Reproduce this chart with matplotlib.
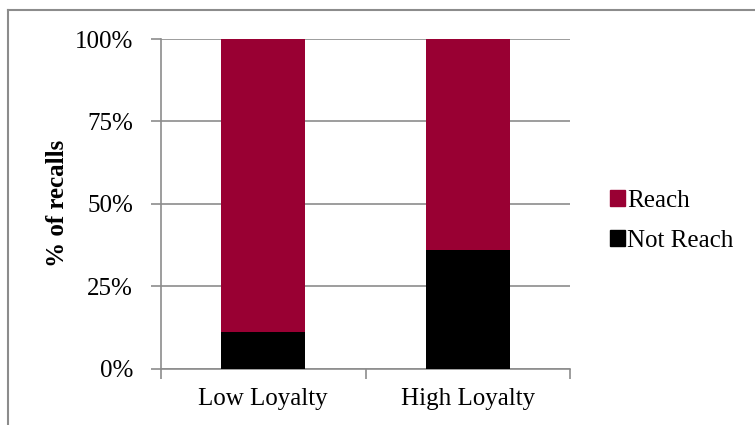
import numpy as np
import matplotlib.pyplot as plt
from matplotlib.patches import Patch
from matplotlib.lines import Line2D

plt.rcParams['font.family'] = ['Liberation Serif', 'DejaVu Serif']

categories = ["Low Loyalty", "High Loyalty"]
not_reach = np.array([11, 36])
reach = 100 - not_reach

reach_color = "#990033"
grid_color = "#8c8c8c"

fig = plt.figure(figsize=(7.55, 4.25), dpi=100)
ax = fig.add_axes([161 / 755, 1 - 368.5 / 425, 409 / 755, 329.5 / 425])

x = np.arange(len(categories))
ax.bar(x, not_reach, width=0.41, color="black", zorder=3)
ax.bar(x, reach, width=0.41, bottom=not_reach, color=reach_color, zorder=3)

ax.set_xlim(-0.5, 1.5)
ax.set_ylim(0, 100)
ax.set_yticks([0, 25, 50, 75, 100])
ax.set_yticklabels(["0%", "25%", "50%", "75%", "100%"])
ax.yaxis.grid(True, color=grid_color, linewidth=1.2, zorder=0)

ax.set_xticks(x)
ax.set_xticklabels(categories)
ax.set_xticks([-0.5, 0.5, 1.5], minor=True)
ax.tick_params(axis="x", which="major", length=0, pad=14, labelsize=18)
ax.tick_params(axis="x", which="minor", length=7, width=1.2, color=grid_color)
ax.tick_params(axis="y", length=7, width=1.2, color=grid_color, pad=13, labelsize=18)

for side in ["top", "right"]:
    ax.spines[side].set_visible(False)
for side in ["left", "bottom"]:
    ax.spines[side].set_color(grid_color)
    ax.spines[side].set_linewidth(1.2)

ax.set_ylabel("% of recalls", fontsize=18, fontweight="bold")
ax.yaxis.set_label_coords(-0.225, 0.5)

handles = [Patch(color=reach_color, label="Reach"), Patch(color="black", label="Not Reach")]
fig.legend(handles=handles, loc="center left", bbox_to_anchor=(587 / 755, 1 - 221 / 425),
           frameon=False, fontsize=18, handlelength=0.6, handleheight=0.6,
           handletextpad=0.1, labelspacing=0.72)

# outer chart border (only top and left fall inside the image)
fig.add_artist(Line2D([8 / 755, 8 / 755], [0, 1 - 10 / 425], transform=fig.transFigure,
                      color=grid_color, linewidth=1.5))
fig.add_artist(Line2D([8 / 755, 1], [1 - 10 / 425, 1 - 10 / 425], transform=fig.transFigure,
                      color=grid_color, linewidth=1.5))

fig.savefig("out.png", dpi=100)
